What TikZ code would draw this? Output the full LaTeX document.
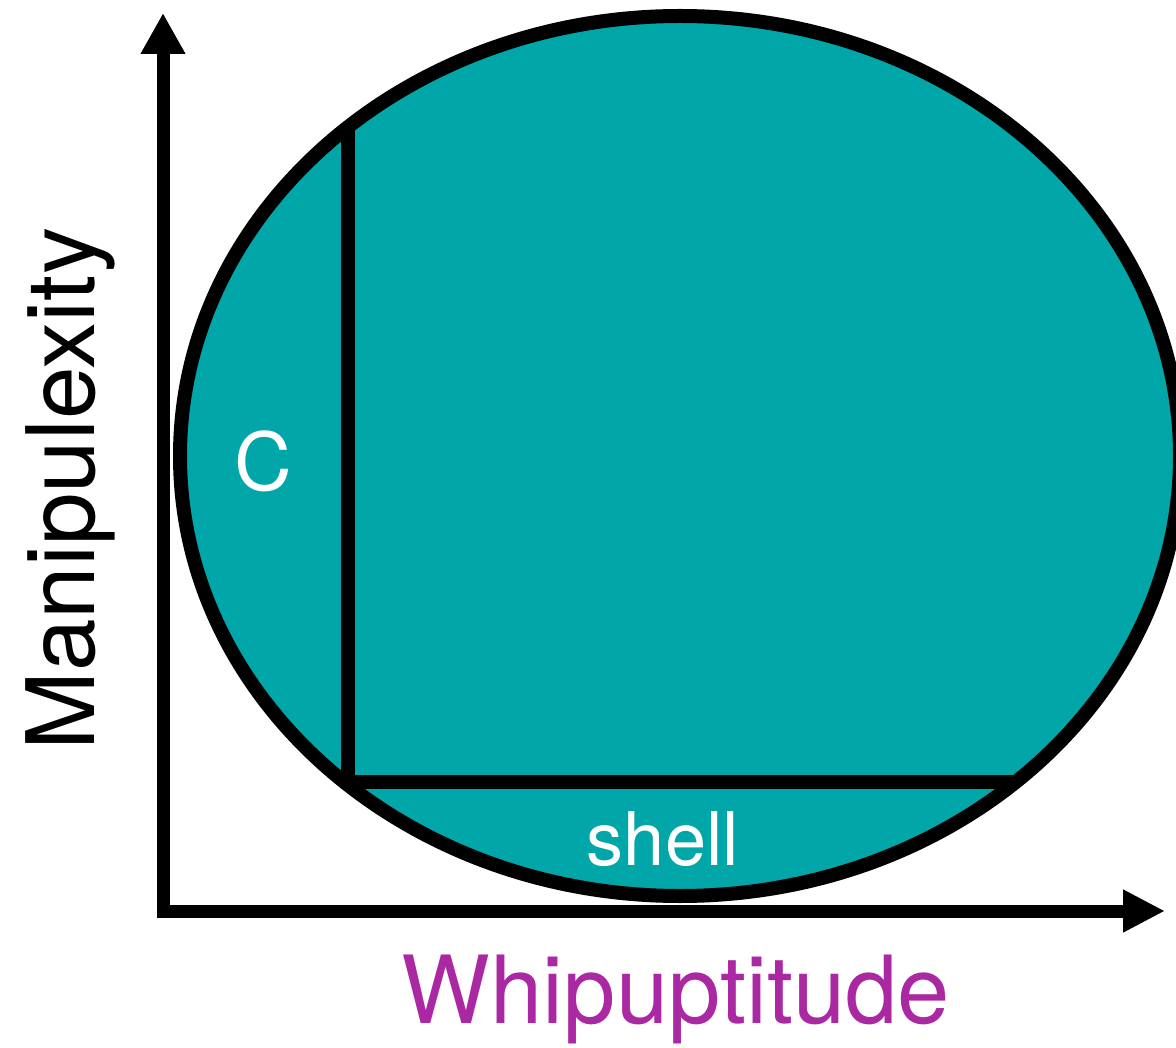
\documentclass[tikz,border=0pt]{standalone}
\usepackage{fontspec}
\setmainfont{TeX Gyre Heros}
\usetikzlibrary{arrows.meta,shapes.geometric}
\definecolor{tealfill}{RGB}{0,166,168}
\definecolor{axispurple}{RGB}{170,40,162}
\begin{document}
\begin{tikzpicture}[x=1pt,y=-1pt,
  blobstyle/.style={ellipse, draw=black, line width=14pt, fill=tealfill,
    minimum width=1000pt, minimum height=880pt, inner sep=0pt, outer sep=0pt},
  divider/.style={draw=black, line width=14pt, line cap=butt},
  axisline/.style={draw=black, line width=13pt, line join=miter},
  inlabel/.style={text=white, inner sep=0pt, anchor=base},
  axlabel/.style={inner sep=0pt, anchor=base}]
\useasboundingbox (0,0) rectangle (1176,1048);
\node[blobstyle] (blob) at (680,456) {};
\coordinate (top) at (348,127);
\coordinate (corner) at (348,782);
\coordinate (right) at (1016,782);
\coordinate (ytip) at (163,13);
\coordinate (origin) at (163,911);
\coordinate (xtip) at (1165,911);
\draw[divider] (top) -- (corner) -- (right);
\draw[axisline, {Triangle[length=41pt,width=42pt]}-{Triangle[length=42pt,width=40pt]}] (ytip) -- (origin) -- (xtip);
\node[inlabel, font=\fontsize{80}{90}\selectfont] (clabel) at (263,490) {C};
\node[inlabel, font=\fontsize{74}{84}\selectfont] (shell) at (663,865) {shell};
\node[axlabel, text=axispurple, font=\fontsize{94}{100}\selectfont] (xlabel) at (676,1023) {Whipuptitude};
\node[axlabel, rotate=90, font=\fontsize{94.5}{100}\selectfont] (ylabel) at (94,489) {Manipulexity};
\end{tikzpicture}
\end{document}
